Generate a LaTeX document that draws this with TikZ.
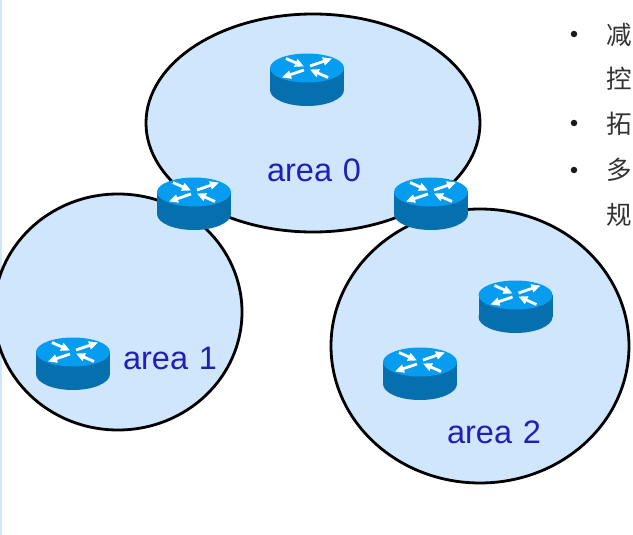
\documentclass[tikz,border=0pt]{standalone}
\usepackage{fontspec}
\setmainfont{Liberation Sans}
\newfontfamily\cjkf{Noto Sans CJK SC}
\usetikzlibrary{arrows.meta}
\definecolor{areafill}{HTML}{CFE6FD}
\definecolor{routertop}{HTML}{069DF0}
\definecolor{routerside}{HTML}{0670AE}
\definecolor{labelblue}{HTML}{2020B8}
\definecolor{cjkgrey}{HTML}{333333}
\tikzset{
  x=1pt,y=-1pt,
  areashape/.style={fill=areafill,draw=black,line width=2.8pt},
  arealabel/.style={font=\fontsize{32.5}{34}\selectfont,text=labelblue,inner sep=0pt},
  cjklabel/.style={font=\cjkf\fontsize{25.5}{27}\selectfont,text=cjkgrey,inner sep=0pt,anchor=west},
  bulletdot/.style={circle,fill=black!90,inner sep=0pt,minimum size=6.5pt},
  routerarrow/.style={draw=white,line width=2.8pt,-{Triangle[length=9pt,width=8pt]}},
  pics/router/.style={code={
    \fill[routerside] (0,22) ellipse[x radius=37,y radius=16];
    \fill[routerside] (-37,0) rectangle (37,22);
    \fill[routertop] (0,0) ellipse[x radius=37,y radius=14.5];
    \draw[routerarrow] (-21,-9.5) -- (-3,-1.5);
    \draw[routerarrow] (21,9.5) -- (3,1.5);
    \draw[routerarrow] (3,-2) -- (25,-9.5);
    \draw[routerarrow] (-3,2) -- (-25,9.5);
  }}
}
\begin{document}
\begin{tikzpicture}
\useasboundingbox (0,0) rectangle (633,535);
\fill[white] (0,0) rectangle (633,535);
\fill[areafill] (0,0) rectangle (1.5,535);
\begin{scope}
\clip (0,0) rectangle (633,535);
\path[areashape] (118,312) ellipse[x radius=124,y radius=118];
\path[areashape] (480,346) ellipse[x radius=149,y radius=137];
\path[areashape] (313,123) ellipse[x radius=167,y radius=109];
\pic at (307,68) {router};
\pic at (194,192) {router};
\pic at (431,192) {router};
\pic at (515.5,295) {router};
\pic at (420,362) {router};
\pic at (73,352) {router};
\node[arealabel] (a0) at (314,170) {area\hspace{0.33em}0};
\node[arealabel] (a1) at (170,358) {area\hspace{0.33em}1};
\node[arealabel] (a2) at (494,432) {area\hspace{0.33em}2};
\node[bulletdot] (b1) at (574,34) {};
\node[bulletdot] (b2) at (574,123) {};
\node[bulletdot] (b3) at (574,170) {};
\node[cjklabel] (t1) at (606,35) {减};
\node[cjklabel] (t2) at (606,79) {控};
\node[cjklabel] (t3) at (606,124) {拓};
\node[cjklabel] (t4) at (606,170) {多};
\node[cjklabel] (t5) at (606,215) {规};
\end{scope}
\end{tikzpicture}
\end{document}
